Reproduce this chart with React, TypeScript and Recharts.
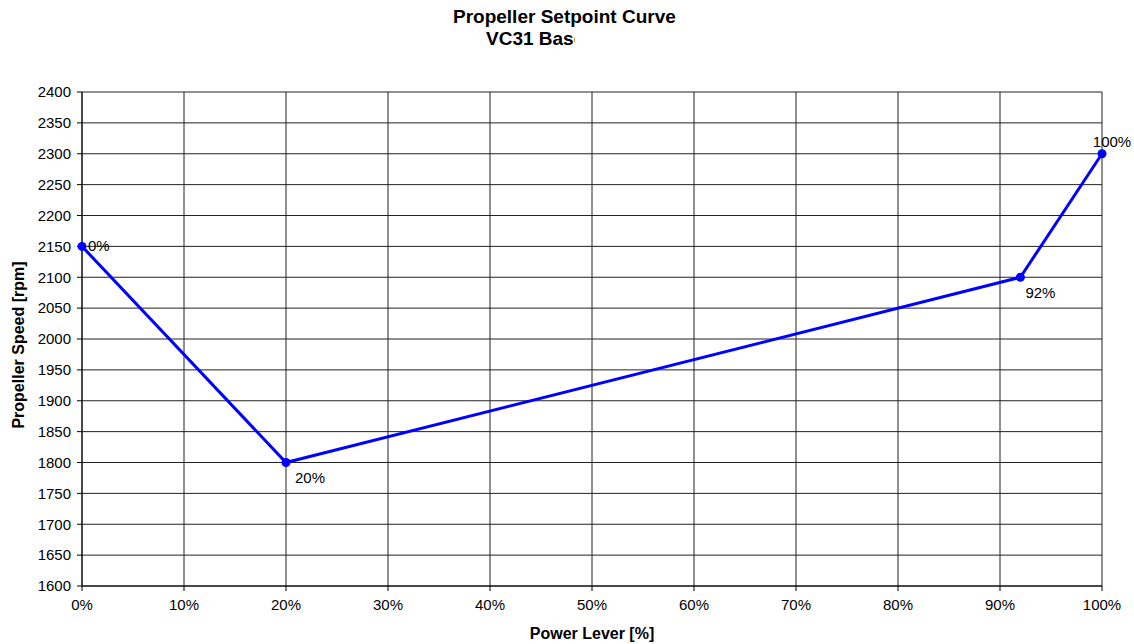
import { LineChart, Line, XAxis, YAxis, CartesianGrid, LabelList } from 'recharts';

const leverPct = [0, 20, 92, 100];
const speedRpm = [2150, 1800, 2100, 2300];
const pointLabels = ['0%', '20%', '92%', '100%'];
const xTicks = [0, 10, 20, 30, 40, 50, 60, 70, 80, 90, 100];
const yTicks = [1600, 1650, 1700, 1750, 1800, 1850, 1900, 1950, 2000, 2050, 2100, 2150, 2200, 2250, 2300, 2350, 2400];

const data = leverPct.map((x, i) => ({ x, rpm: speedRpm[i], label: pointLabels[i] }));

const font = 'Arial, "Liberation Sans", sans-serif';

// nudges for each point label, same order as the data
function PointLabel(props: any) {
  const { x, y, value, index } = props;
  let tx = x + 6;
  let ty = y + 5;
  let anchor: 'start' | 'middle' = 'start';
  if (index === 1) {
    tx = x + 9;
    ty = y + 20;
  } else if (index === 2) {
    tx = x + 5;
    ty = y + 21;
  } else if (index === 3) {
    tx = x + 10;
    ty = y - 7;
    anchor = 'middle';
  }
  return (
    <text x={tx} y={ty} textAnchor={anchor} fontSize={15} fill="#000" fontFamily={font}>
      {value}
    </text>
  );
}

function YLabel(props: any) {
  const { viewBox } = props;
  const cy = viewBox.y + viewBox.height / 2 + 6;
  return (
    <text
      x={24}
      y={cy}
      transform={`rotate(-90, 24, ${cy})`}
      textAnchor="middle"
      fontSize={16}
      fontWeight="bold"
      fill="#000"
      fontFamily={font}
    >
      Propeller Speed [rpm]
    </text>
  );
}

function XLabel(props: any) {
  const { viewBox } = props;
  return (
    <text
      x={viewBox.x + viewBox.width / 2}
      y={639}
      textAnchor="middle"
      fontSize={16}
      fontWeight="bold"
      fill="#000"
      fontFamily={font}
    >
      Power Lever [%]
    </text>
  );
}

export default function App() {
  return (
    <div style={{ position: 'absolute', left: 0, top: 0, width: 1134, height: 644, background: '#fff', fontFamily: font }}>
      <div style={{ position: 'absolute', left: 453, top: 7, fontSize: 19, lineHeight: '19px', fontWeight: 'bold', whiteSpace: 'nowrap' }}>
        Propeller Setpoint Curve
      </div>
      <div style={{ position: 'absolute', left: 486, top: 29, width: 89, overflow: 'hidden', fontSize: 19, lineHeight: '19px', fontWeight: 'bold', whiteSpace: 'nowrap' }}>
        VC31 Baseline
      </div>
      <LineChart width={1134} height={644} data={data} margin={{ top: 92, right: 32, bottom: 0, left: 0 }}>
        <CartesianGrid stroke="#222" strokeWidth={1} horizontalValues={yTicks} verticalValues={xTicks} />
        <XAxis
          type="number"
          dataKey="x"
          domain={[0, 100]}
          ticks={xTicks}
          interval={0}
          tickFormatter={(v) => `${v}%`}
          stroke="#000"
          tickSize={5}
          tick={{ fontSize: 15, fill: '#000', fontFamily: font }}
          tickMargin={8}
          height={58}
          label={<XLabel />}
        />
        <YAxis
          type="number"
          dataKey="rpm"
          domain={[1600, 2400]}
          ticks={yTicks}
          interval={0}
          stroke="#000"
          tickSize={5}
          tick={{ fontSize: 15, fill: '#000', fontFamily: font }}
          tickMargin={6}
          width={82}
          label={<YLabel />}
        />
        <Line
          type="linear"
          dataKey="rpm"
          stroke="#0000ff"
          strokeWidth={3}
          dot={{ r: 4.5, fill: '#0000ff', stroke: '#0000ff', strokeWidth: 0 }}
          isAnimationActive={false}
        >
          <LabelList dataKey="label" content={<PointLabel />} />
        </Line>
      </LineChart>
    </div>
  );
}
